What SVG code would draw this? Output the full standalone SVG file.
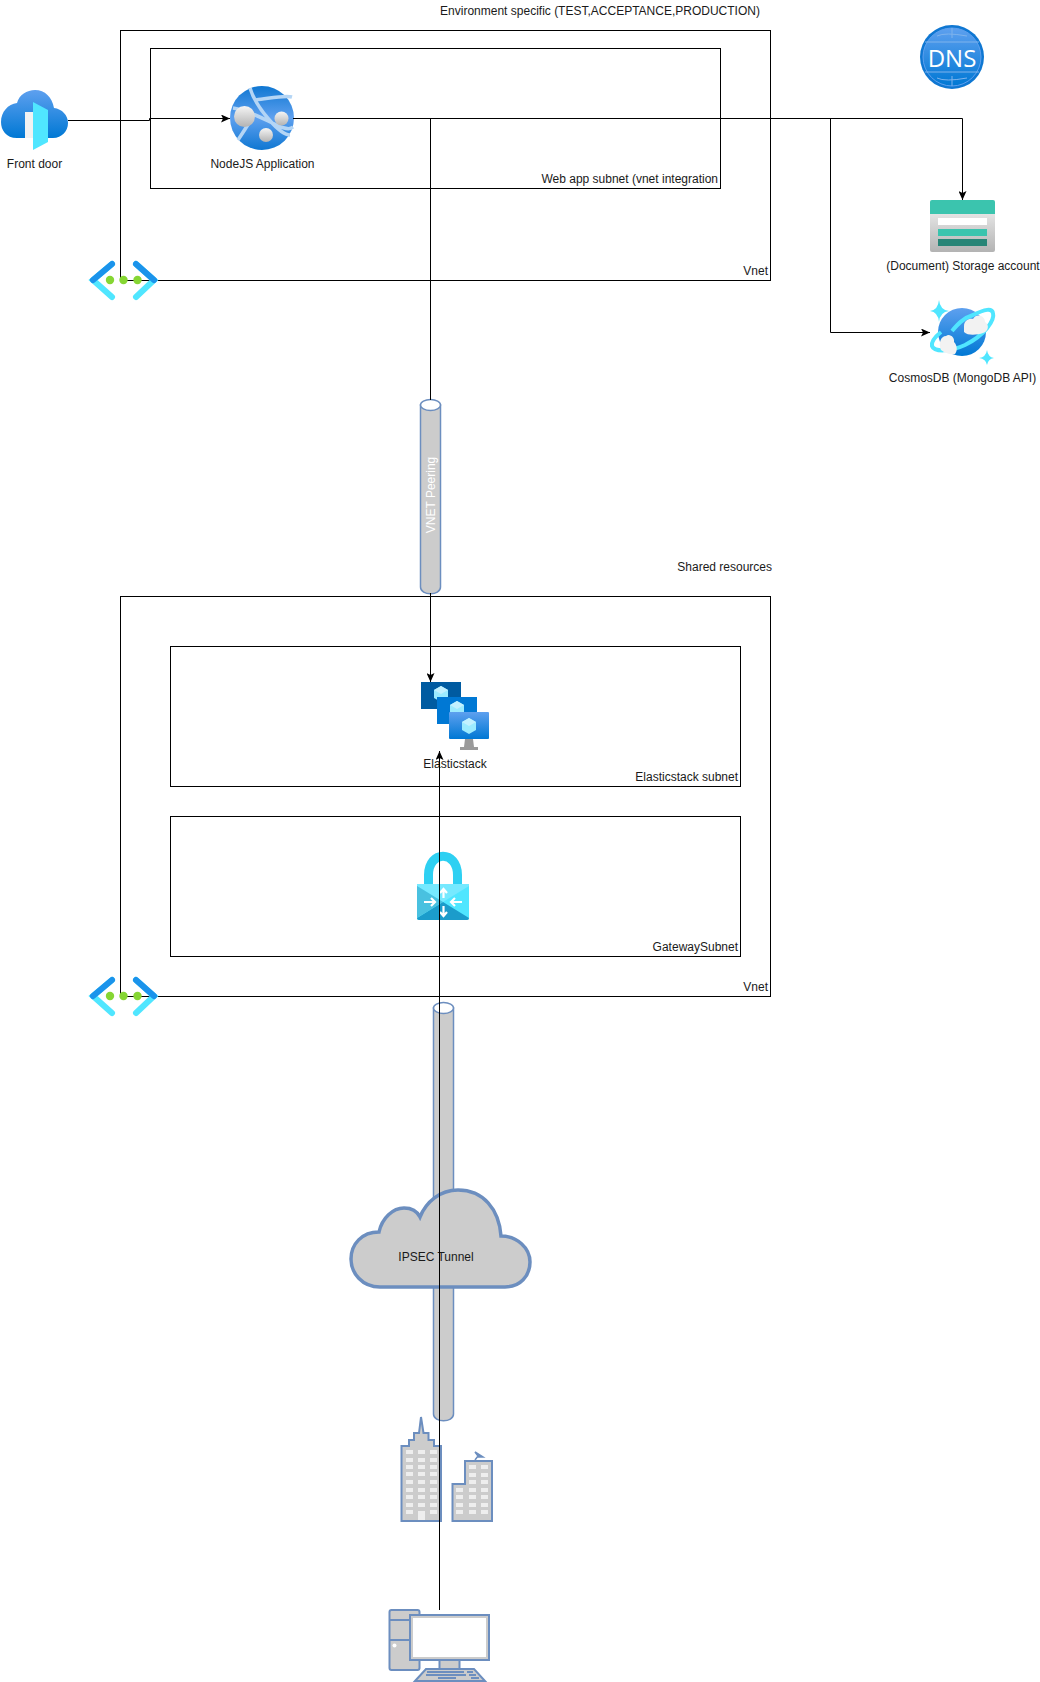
<svg xmlns="http://www.w3.org/2000/svg" width="1040" height="1682" viewBox="0 0 1040 1682">
<style>
text{font-family:"Liberation Sans",Arial,sans-serif;font-size:12px;fill:#1a1a1a}
.m{text-anchor:middle}.e{text-anchor:end}
.box{fill:none;stroke:#000;stroke-width:1}
.conn{fill:none;stroke:#000;stroke-width:1}
.bl{fill:#ccc;stroke:#6c8ebf;stroke-width:2}
.bt{fill:#ccc;stroke:#6c8ebf;stroke-width:1.5}
.w{fill:#eee}
</style>
<defs>
<marker id="a" viewBox="0 0 10 8" refX="9" refY="4" markerWidth="10" markerHeight="8" orient="auto-start-reverse" markerUnits="userSpaceOnUse"><path d="M0 0L9 4L0 8L2 4Z" fill="#000"/></marker>
<linearGradient id="gB" x1="0" y1="0" x2="0" y2="1"><stop offset="0" stop-color="#5ea0ef"/><stop offset="1" stop-color="#0078d4"/></linearGradient>
<linearGradient id="gS" x1="0" y1="0" x2="0" y2="1"><stop offset="0" stop-color="#f5f5f5"/><stop offset="1" stop-color="#b3b3b3"/></linearGradient>
<linearGradient id="gG" x1="0" y1="0" x2="0" y2="1"><stop offset="0" stop-color="#0f77d2"/><stop offset="0.5" stop-color="#5ea0ef"/><stop offset="1" stop-color="#0f77d2"/></linearGradient>
<g id="peer">
<path d="M-11 -16L-30 0L-11 17" fill="none" stroke="#50e6ff" stroke-width="6" stroke-linecap="round"/>
<path d="M-11 -16L-30 0" fill="none" stroke="#1b93eb" stroke-width="6" stroke-linecap="round"/>
<path d="M13 -16L31 0L13 17" fill="none" stroke="#50e6ff" stroke-width="6" stroke-linecap="round"/>
<path d="M13 -16L31 0" fill="none" stroke="#1b93eb" stroke-width="6" stroke-linecap="round"/>
<circle cx="-13" cy="0" r="4.200" fill="#86d633"/><circle cx="0.500" cy="0" r="4.200" fill="#86d633"/><circle cx="14.500" cy="0" r="4.200" fill="#86d633"/>
</g>
<g id="vm">
<rect x="0" y="0" width="40" height="27" fill="currentColor"/>
<path d="M20 4L27 8V16L20 20L13 16V8Z" fill="#9cebff"/><path d="M20 4L27 8L20 12L13 8Z" fill="#c3f1ff"/>
</g>
</defs>
<g id="boxes">
<rect class="box" x="120.500" y="30.500" width="650" height="250"/>
<rect class="box" x="150.500" y="48.500" width="570" height="140"/>
<rect class="box" x="120.500" y="596.500" width="650" height="400"/>
<rect class="box" x="170.500" y="646.500" width="570" height="140"/>
<rect class="box" x="170.500" y="816.500" width="570" height="140"/>
</g>
<text class="m" x="600" y="15">Environment specific (TEST,ACCEPTANCE,PRODUCTION)</text>
<text class="e" x="718" y="183">Web app subnet (vnet integration</text>
<text class="e" x="768" y="275">Vnet</text>
<text class="e" x="772" y="571">Shared resources</text>
<text class="e" x="738" y="781">Elasticstack subnet</text>
<text class="e" x="738" y="951">GatewaySubnet</text>
<text class="e" x="768" y="991">Vnet</text>
<g id="vnet-peering-1"><use href="#peer" x="123" y="280"/></g>
<g id="vnet-peering-2"><use href="#peer" x="123" y="996"/></g>
<g id="front-door">
<path d="M17 138C6 138 1 130 1 122C1 112 8 104 17 103C19 95 27 90 35 90C45 90 52 97 54 108C62 109 68 115 68 123C68 131 62 138 53 138Z" fill="url(#gB)"/>
<rect x="25" y="112" width="9" height="26" fill="#f2f2f2"/>
<path d="M33 102L48 110V142L33 150Z" fill="#50e6ff"/>
<text class="m" x="34.500" y="168">Front door</text>
</g>
<g id="web-app">
<circle cx="262" cy="118" r="32" fill="url(#gG)"/>
<path d="M233 108C260 112 285 135 293 127M250 88C256 108 280 135 290 135M256 100C272 98 285 95 292 97M238 140C246 128 252 118 252 118" fill="none" stroke="#b4d5f5" stroke-width="3.500"/>
<circle cx="244.500" cy="116.500" r="10.500" fill="url(#gS)"/>
<circle cx="281.500" cy="118.500" r="7" fill="url(#gS)"/>
<circle cx="266" cy="135" r="7" fill="url(#gS)"/>
<text class="m" x="262.500" y="168">NodeJS Application</text>
</g>
<g id="dns">
<circle cx="952" cy="57" r="32" fill="#0f77d2"/>
<circle cx="952" cy="57" r="29" fill="url(#gB)" stroke="#5ea0ef" stroke-width="1"/>
<path d="M925 42H979M925 72H979M952 28V38M952 76V86M937 36Q945 32 967 36M937 78Q945 82 967 78" fill="none" stroke="#7eb3ec" stroke-width="1"/>
<text class="m" x="952" y="67" style="font-family:'Open Sans',sans-serif;font-size:24px;fill:#fff">DNS</text>
</g>
<g id="storage">
<rect x="930" y="200" width="65" height="52" rx="2" fill="url(#gS)"/>
<path d="M930 214V202Q930 200 932 200H993Q995 200 995 202V214Z" fill="#3bc4ae"/>
<rect x="938" y="218" width="49" height="7" fill="#fff"/>
<rect x="938" y="229" width="49" height="7" fill="#3bc4ae"/>
<rect x="938" y="239" width="49" height="7" fill="#288577"/>
<text class="m" x="963" y="270">(Document) Storage account</text>
</g>
<g id="cosmos">
<circle cx="962" cy="332" r="24" fill="url(#gB)"/>
<path d="M952 331C957 325 963 318 973 315C985 309 992 308 993 313C995 320 985 335 965 345C950 352 934 352 932 346C931 341 936 336 941 332" fill="none" stroke="#50e6ff" stroke-width="4"/>
<path d="M964 326C964 320 970 318 973 319C976 313 985 315 985 322C990 325 988 332 983 333C977 335 968 336 964 332Z" fill="#f2f2f2"/>
<path d="M941 350C938 343 941 336 946 336C950 333 955 338 954 342C958 346 957 352 955 354C950 355 945 353 941 350Z" fill="#f2f2f2"/>
<path d="M939 300Q940 310 949 311Q940 312 939 322Q938 312 930 311Q938 310 939 300Z" fill="#50e6ff"/>
<path d="M987 350Q988 357 994 358Q988 359 987 365Q986 359 979 358Q986 357 987 350Z" fill="#50e6ff"/>
<text class="m" x="962.500" y="382">CosmosDB (MongoDB API)</text>
</g>
<g id="elasticstack">
<use href="#vm" x="421" y="682" style="color:#005ba1"/>
<use href="#vm" x="437" y="697" style="color:#0078d4"/>
<rect x="449" y="712" width="40" height="27" rx="1" fill="url(#gB)"/>
<path d="M469 718L476 722V730L469 734L462 730V722Z" fill="#9cebff"/><path d="M469 718L476 722L469 726L462 722Z" fill="#c3f1ff"/>
<path d="M465 739H473L474 747H478V750H460V747H464Z" fill="#9a9a9a"/>
<text class="m" x="455" y="768">Elasticstack</text>
</g>
<g id="gateway">
<path d="M428.500 885V875C428.500 850 457.500 850 457.500 875V885" fill="none" stroke="#2ed0f2" stroke-width="9"/>
<path d="M417 886Q417 884 419 884H467Q469 884 469 886V918Q469 920 467 920H419Q417 920 417 918Z" fill="#50e6ff"/>
<path d="M417 886L443 902L469 886V884H417Z" fill="#76e9ff"/>
<path d="M417 918Q417 920 419 920H467Q469 920 469 918L443 902Z" fill="#1b9ccb"/>
<path d="M417 886L443 902L417 918Z" fill="#49c1e0"/>
<path d="M424 902H435M431 898L435 902L431 906M462 902H451M455 898L451 902L455 906M443.500 889V898M440 893L443.500 889L447 893M443.500 906V916M440 912L443.500 916L447 912" fill="none" stroke="#fff" stroke-width="2.200"/>
</g>
<g id="vnet-peering-pipe">
<path class="bt" d="M420.500 405V587C420.500 596 440.500 596 440.500 587V405Z"/>
<ellipse cx="430.500" cy="405" rx="10" ry="5.500" fill="#fff" stroke="#6c8ebf" stroke-width="1.500"/>
<text class="m" transform="translate(435 495) rotate(-90)" style="fill:#fff">VNET Peering</text>
</g>
<g id="ipsec-pipe">
<path class="bt" d="M433.500 1008V1414C433.500 1423 453.500 1423 453.500 1414V1008Z"/>
<ellipse cx="443.500" cy="1008" rx="10" ry="5.500" fill="#fff" stroke="#6c8ebf" stroke-width="1.500"/>
</g>
<g id="ipsec-tunnel">
<path d="M380 1287C362 1287 351 1273 351 1259C351 1244 362 1232 379 1232C382 1218 393 1208 404 1208C412 1208 417 1211 420 1217C426 1202 440 1190 458 1190C483 1190 499 1209 501 1236C517 1236 530 1248 530 1262C530 1276 520 1287 505 1287Z" fill="#ccc" stroke="#6c8ebf" stroke-width="3.500"/>
<text class="m" x="436" y="1261">IPSEC Tunnel</text>
</g>
<g id="office">
<path class="bl" d="M401.500 1521V1446H409V1440H414V1433H419L421 1417L423.500 1433H428.500V1440H434V1446H441V1521Z"/>
<path class="bl" d="M452.500 1521V1484H465V1461H492V1521Z"/>
<path d="M475 1460L478 1456L475 1452L483 1457L478 1457" fill="#6c8ebf" stroke="#6c8ebf" stroke-width="1.500"/>
<g class="w">
<path d="M406 1450h7v4h-7zM418 1450h7v4h-7zM430 1450h7v4h-7zM406 1458h7v4h-7zM418 1458h7v4h-7zM430 1458h7v4h-7zM406 1465h7v4h-7zM418 1465h7v4h-7zM430 1465h7v4h-7zM406 1472h7v4h-7zM418 1472h7v4h-7zM430 1472h7v4h-7zM406 1480h7v4h-7zM418 1480h7v4h-7zM430 1480h7v4h-7zM406 1488h7v4h-7zM418 1488h7v4h-7zM430 1488h7v4h-7zM406 1495h7v4h-7zM418 1495h7v4h-7zM430 1495h7v4h-7zM406 1503h7v4h-7zM418 1503h7v4h-7zM430 1503h7v4h-7zM406 1510h7v4h-7zM418 1511h7v9h-7zM430 1510h7v4h-7z"/>
<path d="M469 1465h7v4h-7zM481 1465h7v4h-7zM469 1473h7v4h-7zM481 1473h7v4h-7zM469 1480h7v4h-7zM481 1480h7v4h-7zM456 1488h7v4h-7zM469 1488h7v4h-7zM481 1488h7v4h-7zM456 1495h7v4h-7zM469 1495h7v4h-7zM481 1495h7v4h-7zM456 1503h7v4h-7zM469 1503h7v4h-7zM481 1503h7v4h-7zM456 1510h7v4h-7zM469 1510h7v4h-7zM481 1510h7v4h-7z"/>
</g>
</g>
<g id="computer">
<rect class="bl" x="389.500" y="1610" width="30" height="60" rx="2"/>
<path d="M389.500 1620H419M389.500 1640H419" fill="none" stroke="#6c8ebf" stroke-width="2"/>
<circle cx="394.500" cy="1645.500" r="2" fill="#fff"/>
<rect class="bl" x="410" y="1615" width="79" height="45"/>
<rect x="413" y="1618" width="73" height="39" fill="#fff"/>
<rect class="bl" x="439.500" y="1660" width="20" height="9"/>
<path class="bl" d="M415 1681L426 1669H474L485 1681Z"/>
<path d="M427 1672H464M467 1672H473M426 1675H466M469 1675H476M438 1678H456M471 1678H479" stroke="#6c8ebf" stroke-width="2" fill="none"/>
</g>
<g id="connectors">
<path class="conn" d="M68 120.500H149.500V118.500H230" marker-end="url(#a)"/>
<path class="conn" d="M293 118.500H962.500V200" marker-end="url(#a)"/>
<path class="conn" d="M830.500 118.500V332.500H930" marker-end="url(#a)"/>
<path class="conn" d="M430.500 118.500V400"/>
<path class="conn" d="M430.500 593V682" marker-end="url(#a)"/>
<path class="conn" d="M439.500 1610V751" marker-end="url(#a)"/>
</g>
</svg>
